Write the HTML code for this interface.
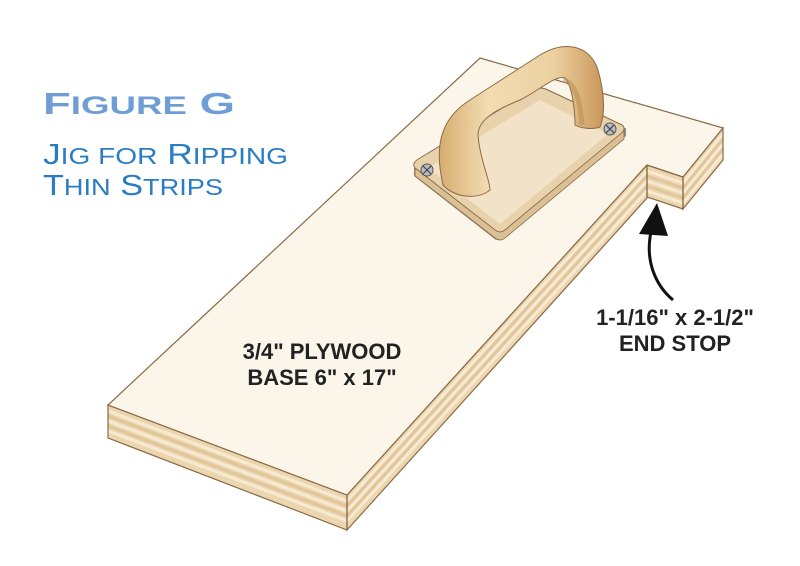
<!DOCTYPE html>
<html><head><style>
html,body{margin:0;padding:0;background:#fff;}
svg{display:block;}
</style></head><body>
<svg width="800" height="566" viewBox="0 0 800 566" xmlns="http://www.w3.org/2000/svg">
<defs>
<linearGradient id="handle" x1="0" y1="0" x2="1" y2="0">
<stop offset="0" stop-color="#d6ad70"/><stop offset="0.3" stop-color="#f3dcb2"/><stop offset="0.7" stop-color="#ecd0a0"/><stop offset="1" stop-color="#c8975a"/></linearGradient>
</defs>
<!-- side faces -->
<g stroke-width="3" fill="none">
<polygon points="108,405 347,495 347,530 108,438" fill="#ecd6b0" stroke="none"/>
<polyline points="108,411 347,501" stroke="#f7ead3"/>
<polyline points="108,416 347,506" stroke="#e2c69b"/>
<polyline points="108,421 347,511" stroke="#f7ead3"/>
<polyline points="108,426 347,516" stroke="#e2c69b"/>
<polyline points="108,431 347,521" stroke="#f7ead3"/>
<polygon points="347,495 647,165 647,198 347,530" fill="#ecd6b0" stroke="none"/>
<polyline points="347,501 647,171" stroke="#f7ead3"/>
<polyline points="347,506 647,176" stroke="#e2c69b"/>
<polyline points="347,511 647,181" stroke="#f7ead3"/>
<polyline points="347,516 647,186" stroke="#e2c69b"/>
<polyline points="347,521 647,191" stroke="#f7ead3"/>
<polygon points="647,165 683,177 683,209 647,197" fill="#ecd6b0" stroke="none"/>
<polyline points="647,171 683,183" stroke="#f7ead3"/>
<polyline points="647,176 683,188" stroke="#e2c69b"/>
<polyline points="647,181 683,193" stroke="#f7ead3"/>
<polyline points="647,186 683,198" stroke="#e2c69b"/>
<polyline points="647,191 683,203" stroke="#f7ead3"/>
<polygon points="683,177 723,128 723,160 683,209" fill="#ecd6b0" stroke="none"/>
<polyline points="683,183 723,134" stroke="#f7ead3"/>
<polyline points="683,188 723,139" stroke="#e2c69b"/>
<polyline points="683,193 723,144" stroke="#f7ead3"/>
<polyline points="683,198 723,149" stroke="#e2c69b"/>
<polyline points="683,203 723,154" stroke="#f7ead3"/>
</g>
<g fill="none" stroke="#8a6a45" stroke-width="1.2">
<polygon points="108,405 347,495 347,530 108,438"/>
<polygon points="347,495 647,165 647,198 347,530"/>
<polygon points="647,165 683,177 683,209 647,197"/>
<polygon points="683,177 723,128 723,160 683,209"/>
</g>
<!-- top face -->
<polygon points="480,58 723,128 683,177 647,165 347,495 108,405" fill="#fbf5ea" stroke="#8a6a45" stroke-width="1.2"/>
<!-- handle plate -->
<path d="M414,176 L496,240 L626,136 L626,128 L414,168 Z" fill="#8c8c8c"/>
<path d="M415,168 L495,230 Q500,234 505,230 L622,133 Q627,127 620,124 L548,90 Q540,86 532,90 L420,158 Q411,163 415,168 Z" fill="#e8d2ac" stroke="#8a6a45" stroke-width="1"/>
<path d="M415,168 L415,176 L495,238 Q500,242 505,238 L624,139 L624,131 L505,230 Q500,234 495,230 Z" fill="#dcc095" stroke="#8a6a45" stroke-width="0.8"/>
<path d="M428,168 L500,224 L608,134 L540,100 Z" fill="#f2e3c8"/>
<!-- screws -->
<circle cx="427" cy="170" r="6" fill="#b8bcc4" stroke="#555" stroke-width="1"/>
<path d="M423,166 L431,174 M431,166 L423,174" stroke="#444" stroke-width="1.2"/>
<circle cx="610" cy="129" r="6" fill="#b8bcc4" stroke="#555" stroke-width="1"/>
<path d="M606,125 L614,133 M614,125 L606,133" stroke="#444" stroke-width="1.2"/>
<!-- handle -->
<path d="M443,185 C435,150 438,120 470,100 L540,55 C565,40 590,45 598,70 C605,95 605,115 600,127 C592,130 580,128 575,125 C575,110 572,85 565,78 C555,75 540,90 520,100 C495,110 478,120 478,135 C480,160 490,180 490,190 C478,200 455,198 443,185 Z" fill="url(#handle)" stroke="#8a6a45" stroke-width="1"/>
<path d="M563,80 C575,82 580,100 582,125" fill="none" stroke="#b8884c" stroke-width="5" opacity="0.5"/>
<!-- arrow -->
<path d="M673,300 C655,285 645,260 651,232" fill="none" stroke="#111" stroke-width="3"/>
<polygon points="657,203 668,236 639,234" fill="#111"/>
<!-- text -->
<g font-family="Liberation Sans, sans-serif" fill="#6f9ed6" font-weight="bold">
<text x="43" y="114" font-size="31" textLength="192" lengthAdjust="spacingAndGlyphs">F<tspan font-size="25">IGURE</tspan> G</text>
</g>
<g font-family="Liberation Sans, sans-serif" fill="#2a7cc4">
<text x="43" y="164" font-size="29" textLength="245" lengthAdjust="spacingAndGlyphs">J<tspan font-size="23">IG FOR</tspan> R<tspan font-size="23">IPPING</tspan></text>
<text x="43" y="195" font-size="29" textLength="180" lengthAdjust="spacingAndGlyphs">T<tspan font-size="23">HIN</tspan> S<tspan font-size="23">TRIPS</tspan></text>
</g>
<g font-family="Liberation Sans, sans-serif" font-weight="bold" fill="#222" font-size="22" text-anchor="middle">
<text x="322" y="359">3/4" PLYWOOD</text>
<text x="322" y="385">BASE 6" x 17"</text>
<text x="675" y="325">1-1/16" x 2-1/2"</text>
<text x="675" y="351">END STOP</text>
</g>
</svg>
</body></html>
